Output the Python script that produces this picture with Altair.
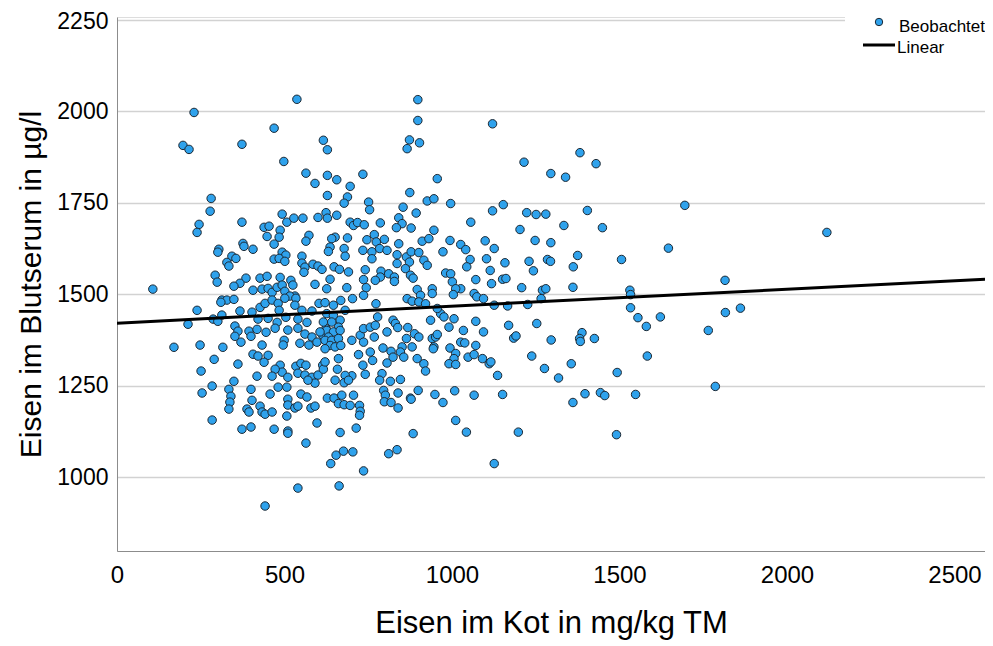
import altair as alt
import pandas as pd

# Eisen im Kot (mg/kg TM) and Eisen im Blutserum (µg/l) in groups
kot_a = [537,230,469,197,215,373,498,564,591,281,278,245,239,373,493,507,528,555,600,439,
         454,487,448,484,573,564,469,376,379,406,304,301,493,504,469,484,501,552,552,343,
         355,328,334,561,558,585,600,612,293,299,385,367,349,427,448,487,519,525,591,107,
         406,433,451,463,478,493,501,531,516]
serum_a = [2033,1997,1954,1907,1896,1910,1863,1831,1803,1762,1727,1691,1669,1697,1719,1697,1708,1708,1710,1683,
           1686,1675,1658,1656,1661,1645,1637,1639,1631,1623,1623,1615,1615,1607,1596,1598,1590,1604,1585,1604,
           1598,1587,1577,1574,1560,1582,1577,1568,1552,1533,1544,1530,1522,1544,1549,1546,1538,1525,1527,1514,
           1511,1514,1516,1505,1519,1525,1508,1495,1495]

kot_b = [313,328,349,239,310,367,403,427,442,463,
         481,484,501,534,531,552,582,603,212,287,
         301,313,421,451,478,504,540,567,352,361,
         352,394,400,418,445,472,510,499,496,540,
         561,582,546,573,597,370,170,248,316,433,
         406,421,451,439,290,361,487,493,472,463,
         418,510,534,549,564,540,561,582,600,591,
         570,251,349,334,340,337,334,284,254,400,
         403,427,388,394,433,442,463,457,481,507,
         510,510,531,540,507,549,567,579,591,284,
         373,400,469,510,510,564,597,540,442,614,
         624,614]
serum_b = [1484,1484,1486,1456,1478,1454,1451,1464,1475,1484,
           1475,1456,1489,1489,1470,1456,1454,1475,1418,1432,
           1426,1443,1432,1434,1423,1437,1432,1423,1413,1399,
           1385,1399,1385,1404,1396,1407,1402,1374,1361,1407,
           1391,1383,1366,1361,1369,1369,1355,1361,1355,1361,
           1336,1331,1333,1314,1322,1309,1306,1287,1295,1276,
           1276,1273,1303,1311,1306,1284,1279,1273,1279,1257,
           1265,1290,1262,1240,1221,1205,1186,1249,1230,1240,
           1210,1194,1186,1178,1178,1172,1178,1227,1246,1246,
           1213,1197,1189,1194,1167,1227,1219,1189,1194,1156,
           1131,1137,1131,1126,1120,1093,1148,970,921,1388,
           1406,1306]

kot_c = [898,898,1121,616,628,873,866,903,734,628,
         656,956,696,874,628,688,678,751,754,926,
         946,996,854,893,1121,1153,624,628,656,696,
         706,718,738,786,841,851,834,878,946,1056,
         1203,651,641,688,768,746,774,798,841,911,
         931,994,1026,1041,1099,1126,636,631,678,681,
         734,761,761,784,806,836,836,864,878,901,
         916,926,873,861,973,1054,1044,1103,1114,1158,
         648,664,691,741,736,744,788,786,771,811,
         828,828,876,884,636,626,686,981,996,1001,
         1026,1011,1071,1118,1151,1161,896,941,941,906,
         866,736,703,668,1004,1066,1074,1094]
serum_c = [2032,1975,1966,1921,1895,1922,1898,1914,1828,1825,
           1813,1816,1795,1778,1770,1766,1749,1752,1731,1755,
           1761,1748,1738,1722,1728,1745,1723,1708,1716,1697,
           1688,1696,1690,1695,1709,1693,1682,1681,1675,1697,
           1677,1656,1652,1654,1663,1649,1643,1650,1638,1645,
           1652,1647,1636,1622,1646,1625,1629,1617,1625,1604,
           1620,1616,1597,1625,1620,1608,1584,1602,1616,1614,
           1593,1579,1588,1570,1616,1595,1575,1597,1565,1586,
           1575,1568,1561,1567,1540,1518,1563,1547,1538,1556,
           1547,1535,1552,1544,1541,1515,1518,1558,1556,1534,
           1515,1515,1540,1529,1541,1543,1513,1515,1502,1497,
           1488,1497,1488,1483,1499,1502,1493,1488]

kot_d = [773,646,621,681,626,646,666,616,641,661,
         626,646,666,606,631,621,641,661,636,651,
         668,621,701,726,736,756,771,778,768,736,
         806,824,831,838,868,888,901,864,851,881,
         794,818,824,846,856,896,916,921,721,756,
         763,734,741,806,791,784,816,846,701,681,
         658,678,651,691,616,621,661,936,966,976,
         991,1006,956,941,951,956,946,944,994,1011,
         1006,991,1011,1026,1038,1034,1048,1066,1071,1071,
         1094,1091,1111,1116,1136,1169,1184,1191,1126,1166,
         881,901,921,628,648,671,661,678,696,706,
         724,726,724,714,666,796,801,798,818,839,
         839,876,878,899,949,973,1008,1066,1151,1011,
         1043,884,1198,654,676,704,638,736,811,836,
         1126,663]
serum_d = [1474,1470,1477,1456,1447,1442,1429,1424,1424,1410,
           1401,1397,1401,1397,1383,1374,1374,1379,1360,1356,
           1360,1351,1374,1388,1406,1410,1415,1438,1383,1369,
           1397,1429,1420,1409,1409,1392,1383,1379,1356,1356,
           1353,1344,1328,1342,1328,1324,1310,1290,1335,1342,
           1319,1306,1281,1312,1283,1265,1262,1267,1277,1278,
           1295,1258,1265,1265,1295,1315,1324,1429,1447,1438,
           1410,1433,1461,1379,1383,1390,1356,1351,1353,1338,
           1324,1310,1308,1369,1367,1401,1328,1335,1360,1426,
           1397,1324,1310,1315,1278,1415,1380,1386,1470,1468,
           1481,1479,1474,1216,1216,1224,1201,1198,1196,1224,
           1196,1180,1169,1134,1122,1237,1224,1206,1204,1230,
           1189,1216,1213,1237,1226,1204,1236,1224,1226,1155,
           1123,1119,1123,1060,1071,1069,1037,1017,1064,1075,
           1037,976]

kot_e = [1215,1382,1430,1295,1339,1223,1251,1280,1404,1695,
         1334,1449,1248,1295,1646,1230,1243,1285,1294,1375,
         1362,1506,1208,1270,1280,1266,1361,1531,1533,1815,
         1226,1533,1555,1580,1622,1816,1861,1765,1253,1296,
         1388,1381,1383,1425,1238,1276,1318,1356,1493,1583,
         1786,1361,1397,1443,1456,1548,1491,2119]
serum_e = [1861,1887,1857,1830,1820,1723,1718,1719,1729,1743,
           1688,1682,1647,1641,1626,1590,1564,1595,1590,1606,
           1575,1595,1518,1511,1515,1488,1519,1511,1499,1538,
           1472,1463,1436,1412,1438,1450,1462,1401,1420,1375,
           1395,1379,1371,1379,1331,1297,1271,1310,1286,1331,
           1248,1204,1228,1231,1223,1226,1116,1669]

# Linear fit (as drawn in the reference)
fit_kot = [0, 2591]
fit_serum = [1421, 1541]

legend_labels = ["Beobachtet", "Linear"]
x_ticks = [0, 500, 1000, 1500, 2000, 2500]
y_ticks = [1000, 1250, 1500, 1750, 2000, 2250]

kot = kot_a + kot_b + kot_c + kot_d + kot_e
serum = serum_a + serum_b + serum_c + serum_d + serum_e
df = pd.DataFrame({"kot": kot, "serum": serum})
fit_df = pd.DataFrame({"kot": fit_kot, "serum": fit_serum})

FONT = "Liberation Sans"
POINT_FILL = "#2fa2ec"
POINT_STROKE = "#1c2833"

x_enc = alt.X(
    "kot:Q",
    scale=alt.Scale(domain=[0, 2591], nice=False, zero=False),
    axis=alt.Axis(
        values=x_ticks, format="d", grid=False, ticks=False, domainColor="#8c8c8c", domainWidth=1,
        labelFontSize=24, labelFont=FONT, labelColor="black", labelPadding=12,
        labelFlush=False, labelOverlap=False,
        title="Eisen im Kot in mg/kg TM", titleFont=FONT, titleFontSize=31,
        titleFontWeight="normal", titleColor="black", titlePadding=21,
    ),
)
y_enc = alt.Y(
    "serum:Q",
    scale=alt.Scale(domain=[798, 2258], nice=False, zero=False),
    axis=alt.Axis(
        values=y_ticks, format="d", grid=True, gridColor="#d2d2d2", gridWidth=1.5, ticks=False,
        domainColor="#8c8c8c", domainWidth=1,
        labelFontSize=23, labelFont=FONT, labelColor="black", labelPadding=9,
        labelOverlap=False,
        labelOffset={"condition": {"test": "datum.value >= 2250", "value": 2}, "value": 0},
        title="Eisen im Blutserum in µg/l", titleFont=FONT, titleFontSize=30,
        titleFontWeight="normal", titleColor="black", titlePadding=10,
    ),
)

points = alt.Chart(df).mark_point(
    shape="circle", filled=True, fill=POINT_FILL, stroke=POINT_STROKE,
    strokeWidth=1, size=72, opacity=1,
).encode(x=x_enc, y=y_enc)

fit_line = alt.Chart(fit_df).mark_line(color="black", strokeWidth=3, clip=True).encode(
    x="kot:Q", y="serum:Q"
)

leg_bg = alt.Chart(pd.DataFrame({"label": [legend_labels[0]]})).mark_rect(fill="white").encode(
    x=alt.value(728), x2=alt.value(880), y=alt.value(-9), y2=alt.value(44)
)
leg_pt = alt.Chart(pd.DataFrame({"label": [legend_labels[0]]})).mark_point(
    shape="circle", filled=True, fill=POINT_FILL, stroke=POINT_STROKE, strokeWidth=1,
    size=55, opacity=1,
).encode(x=alt.value(762), y=alt.value(5))
leg_rule = alt.Chart(pd.DataFrame({"label": [legend_labels[1]]})).mark_rule(
    color="black", strokeWidth=3
).encode(x=alt.value(746), x2=alt.value(778), y=alt.value(28))
leg_txt1 = alt.Chart(pd.DataFrame({"label": [legend_labels[0]]})).mark_text(
    align="left", baseline="alphabetic", fontSize=17, font=FONT, color="black"
).encode(x=alt.value(782), y=alt.value(15), text="label:N")
leg_txt2 = alt.Chart(pd.DataFrame({"label": [legend_labels[1]]})).mark_text(
    align="left", baseline="alphabetic", fontSize=17, font=FONT, color="black"
).encode(x=alt.value(780), y=alt.value(36), text="label:N")

chart = alt.layer(points, fit_line, leg_bg, leg_pt, leg_rule, leg_txt1, leg_txt2).properties(
    width=868, height=534,
    autosize=alt.AutoSizeParams(type="none"),
    padding={"left": 109, "top": 9, "right": 0, "bottom": 92},
).configure_view(stroke=None).configure(background="white")

chart.save("out.html", embed_options={"renderer": "svg", "actions": False})
